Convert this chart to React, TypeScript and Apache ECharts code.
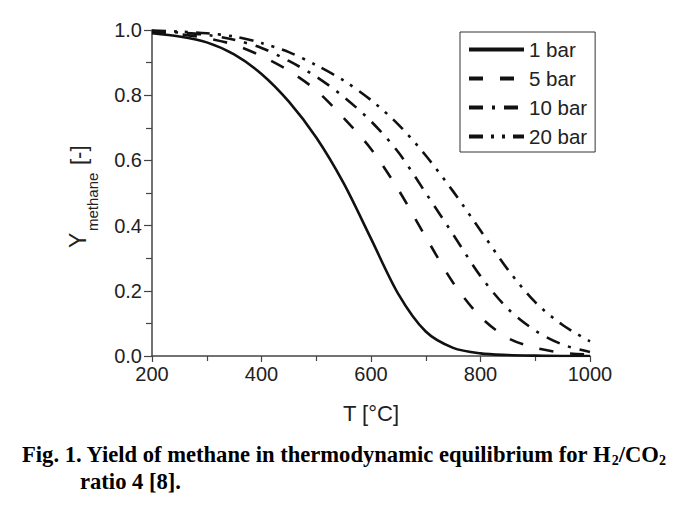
import React, { useEffect, useRef } from "react";
import * as echarts from "echarts";

const temps = [200, 250, 300, 350, 400, 450, 500, 550, 600, 650, 700, 750, 800, 850, 900, 950, 1000];
const y1bar = [0.99, 0.98, 0.962, 0.925, 0.865, 0.78, 0.67, 0.53, 0.36, 0.19, 0.075, 0.025, 0.008, 0.003, 0.001, 0.0, 0.0];
const y5bar = [0.995, 0.987, 0.975, 0.955, 0.92, 0.875, 0.815, 0.73, 0.635, 0.51, 0.365, 0.225, 0.12, 0.055, 0.025, 0.01, 0.004];
const y10bar = [0.997, 0.992, 0.985, 0.97, 0.945, 0.905, 0.857, 0.795, 0.72, 0.625, 0.5, 0.373, 0.245, 0.145, 0.078, 0.035, 0.012];
const y20bar = [0.998, 0.995, 0.99, 0.98, 0.96, 0.932, 0.892, 0.845, 0.785, 0.71, 0.615, 0.505, 0.385, 0.265, 0.165, 0.095, 0.045];
const seriesNames = ["1 bar", "5 bar", "10 bar", "20 bar"];
const xTicks = [200, 400, 600, 800, 1000];
const yTicks = [0.0, 0.2, 0.4, 0.6, 0.8, 1.0];

const dashes: (string | number[])[] = ["solid", [14, 17], [14, 9, 3, 9], [14, 8, 3, 8, 3, 8]];

export default function App() {
  const ref = useRef<HTMLDivElement>(null);
  useEffect(() => {
    if (!ref.current) return;
    const chart = echarts.init(ref.current, null, { renderer: "svg" });
    const all = [y1bar, y5bar, y10bar, y20bar];
    const font = "Liberation Sans, Arial, sans-serif";
    const serif = "Liberation Serif, Times New Roman, serif";
    chart.setOption({
      animation: false,
      backgroundColor: "#ffffff",
      grid: { left: 152, top: 30, right: 87, bottom: 154, containLabel: false },
      xAxis: {
        type: "value",
        min: xTicks[0],
        max: xTicks[xTicks.length - 1],
        interval: 200,
        name: "T [°C]",
        nameLocation: "middle",
        nameGap: 46,
        nameTextStyle: { fontSize: 22, color: "#222", fontFamily: font },
        axisLine: { show: true, lineStyle: { color: "#444", width: 1.5 } },
        axisTick: { show: true, inside: false, length: 6, lineStyle: { color: "#444", width: 1.2 } },
        minorTick: { show: true, splitNumber: 2, length: 5, lineStyle: { color: "#444", width: 1.2 } },
        axisLabel: { fontSize: 20, color: "#222", margin: 8, fontFamily: font, formatter: (v: number) => String(v) },
        splitLine: { show: false },
      },
      yAxis: {
        type: "value",
        min: yTicks[0],
        max: yTicks[yTicks.length - 1],
        interval: 0.2,
        axisLine: { show: true, lineStyle: { color: "#444", width: 1.5 } },
        axisTick: { show: true, inside: false, length: 8, lineStyle: { color: "#444", width: 1.2 } },
        minorTick: { show: true, splitNumber: 2, length: 6, lineStyle: { color: "#444", width: 1.2 } },
        axisLabel: { fontSize: 20, color: "#222", margin: 10, fontFamily: font, formatter: (v: number) => v.toFixed(1) },
        splitLine: { show: false },
      },
      legend: {
        left: 460,
        top: 32,
        orient: "vertical",
        padding: [7, 8, 5, 7],
        itemGap: 8,
        itemWidth: 55,
        itemHeight: 20,
        borderColor: "#333",
        borderWidth: 1,
        textStyle: { fontSize: 20.5, color: "#222", fontFamily: font },
        lineStyle: { width: 4 },
        itemStyle: { opacity: 0, borderWidth: 0 },
        data: seriesNames,
      },
      series: all.map((arr, i) => ({
        name: seriesNames[i],
        type: "line",
        data: temps.map((t, j) => [t, arr[j]]),
        smooth: 0.3,
        symbol: "none",
        showSymbol: false,
        lineStyle: { color: "#111", width: 2.6, type: dashes[i] },
        itemStyle: { color: "#111" },
        z: 3,
      })),
      graphic: [
        {
          type: "group",
          x: 78,
          y: 196,
          rotation: Math.PI / 2,
          children: [
            { type: "text", x: -52, y: 0, style: { text: "Y", fontSize: 23, fill: "#222", fontFamily: font, align: "left", verticalAlign: "middle" } },
            { type: "text", x: -35, y: 14, style: { text: "methane", fontSize: 15, fill: "#222", fontFamily: font, align: "left", verticalAlign: "middle" } },
            { type: "text", x: 31, y: 0, style: { text: "[-]", fontSize: 22, fill: "#222", fontFamily: font, align: "left", verticalAlign: "middle" } },
          ],
        },
        {
          type: "text",
          x: 22,
          y: 454,
          style: {
            text: "{n|Fig. 1. Yield of methane in thermodynamic equilibrium for H}{s|2}{n|/CO}{s|2}",
            fontFamily: serif,
            fontWeight: "bold",
            fontSize: 22.6,
            fill: "#000",
            verticalAlign: "middle",
            rich: {
              n: { fontSize: 22.6, fontWeight: "bold", fontFamily: serif, fill: "#000", lineHeight: 26, verticalAlign: "middle" },
              s: { fontSize: 14, fontWeight: "bold", fontFamily: serif, fill: "#000", lineHeight: 26, verticalAlign: "bottom", padding: [11, 0, 0, 0] },
            },
          },
        },
        {
          type: "text",
          x: 80,
          y: 481,
          style: {
            text: "ratio 4 [8].",
            fontFamily: serif,
            fontWeight: "bold",
            fontSize: 22.6,
            fill: "#000",
            verticalAlign: "middle",
          },
        },
      ],
    });
    return () => chart.dispose();
  }, []);
  return <div ref={ref} style={{ position: "fixed", left: 0, top: 0, width: 677, height: 510 }} />;
}
